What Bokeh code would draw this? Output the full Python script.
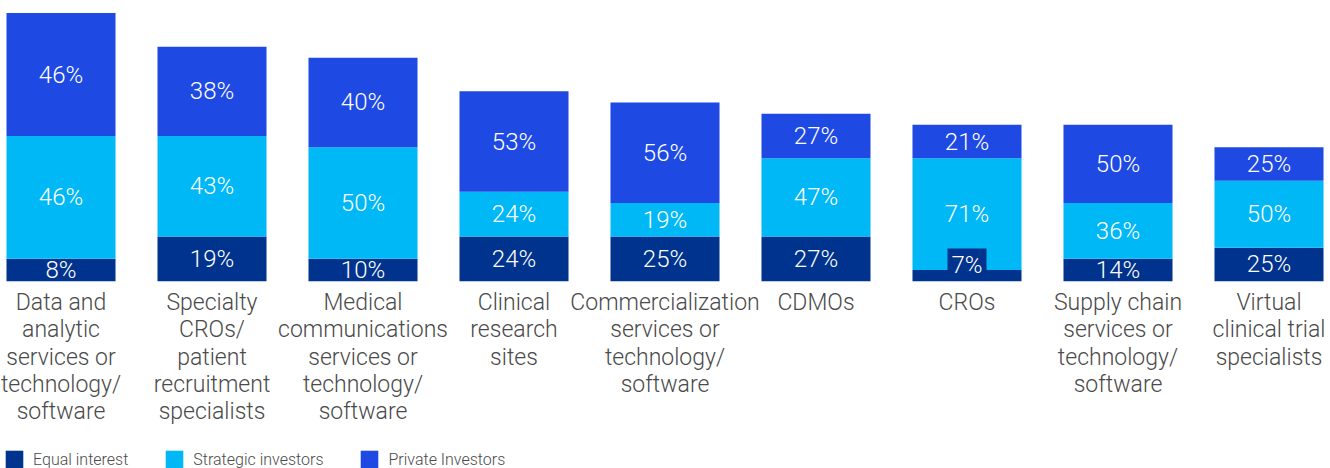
from bokeh.plotting import figure
from bokeh.models import ColumnDataSource, Range1d, Legend, LegendItem, Label
from bokeh.core.properties import value
from bokeh.embed import file_html
from bokeh.resources import INLINE

categories = [
    "Data and\nanalytic\nservices or\ntechnology/\nsoftware",
    "Specialty\nCROs/\npatient\nrecruitment\nspecialists",
    "Medical\ncommunications\nservices or\ntechnology/\nsoftware",
    "Clinical\nresearch\nsites",
    "Commercialization\nservices or\ntechnology/\nsoftware",
    "CDMOs",
    "CROs",
    "Supply chain\nservices or\ntechnology/\nsoftware",
    "Virtual\nclinical trial\nspecialists",
]
equal_interest = [2, 4, 2, 4, 4, 4, 1, 2, 3]
strategic_investors = [11, 9, 10, 4, 3, 7, 10, 5, 6]
private_investors = [11, 8, 8, 9, 9, 4, 3, 7, 3]
series_names = ["Equal interest", "Strategic investors", "Private Investors"]
colors = ["#00338D", "#00B8F5", "#1E49E2"]

FONT = "Roboto Light"
x = list(range(len(categories)))

src = ColumnDataSource(dict(x=x, eq=equal_interest, st=strategic_investors,
                            pr=private_investors, cat=categories,
                            y0=[0] * len(x)))

p = figure(width=1330, height=468, output_backend="svg", toolbar_location=None,
           x_range=Range1d(-0.4007, 8.4073), y_range=Range1d(-16.77, 25.13),
           x_axis_location=None, y_axis_location=None, min_border=0)
p.grid.visible = False
p.outline_line_color = None
p.background_fill_color = "white"

renderers = p.vbar_stack(["eq", "st", "pr"], x="x", width=0.722, color=colors,
                         line_color=None, source=src)

# segment labels
lx, ly, lt = [], [], []
sx, sy, st = [], [], []
series = [equal_interest, strategic_investors, private_investors]
for i in x:
    total = sum(s[i] for s in series)
    base = 0
    for s in series:
        v = s[i]
        pct = f"{round(100 * v / total)}%"
        if v <= 1:
            sx.append(i); sy.append(base + v / 2); st.append(pct)
        else:
            lx.append(i); ly.append(base + v / 2); lt.append(pct)
        base += v

lab_src = ColumnDataSource(dict(x=lx, y=ly, t=lt))
p.text(x="x", y="y", text="t", source=lab_src, text_align="center",
       text_baseline="middle", text_color="white", text_font=value(FONT),
       text_font_size="24px")

for xi, yi, ti in zip(sx, sy, st):
    p.add_layout(Label(x=xi, y=yi, text=ti, text_align="center",
                       text_baseline="middle", text_color="white",
                       text_font=FONT, text_font_size="24px", y_offset=11,
                       background_fill_color=colors[0], padding=(4, 2)))

# category labels
p.text(x="x", y="y0", text="cat", source=src, text_align="center",
       text_baseline="top", y_offset=8, text_color="#4A4A4A",
       text_font=value(FONT), text_font_size="23px", text_line_height=1.01)

legend = Legend(items=[LegendItem(label=n, renderers=[r]) for n, r in zip(series_names, renderers)],
                orientation="horizontal", location=(3, -2), padding=0, margin=0,
                spacing=35, label_standoff=8, glyph_width=22, glyph_height=22,
                label_height=22, label_text_font=FONT, label_text_font_size="16px",
                label_text_color="#4A4A4A", border_line_color=None,
                background_fill_alpha=0)
p.add_layout(legend, "center")

open("out.html", "w").write(file_html(p, INLINE))
